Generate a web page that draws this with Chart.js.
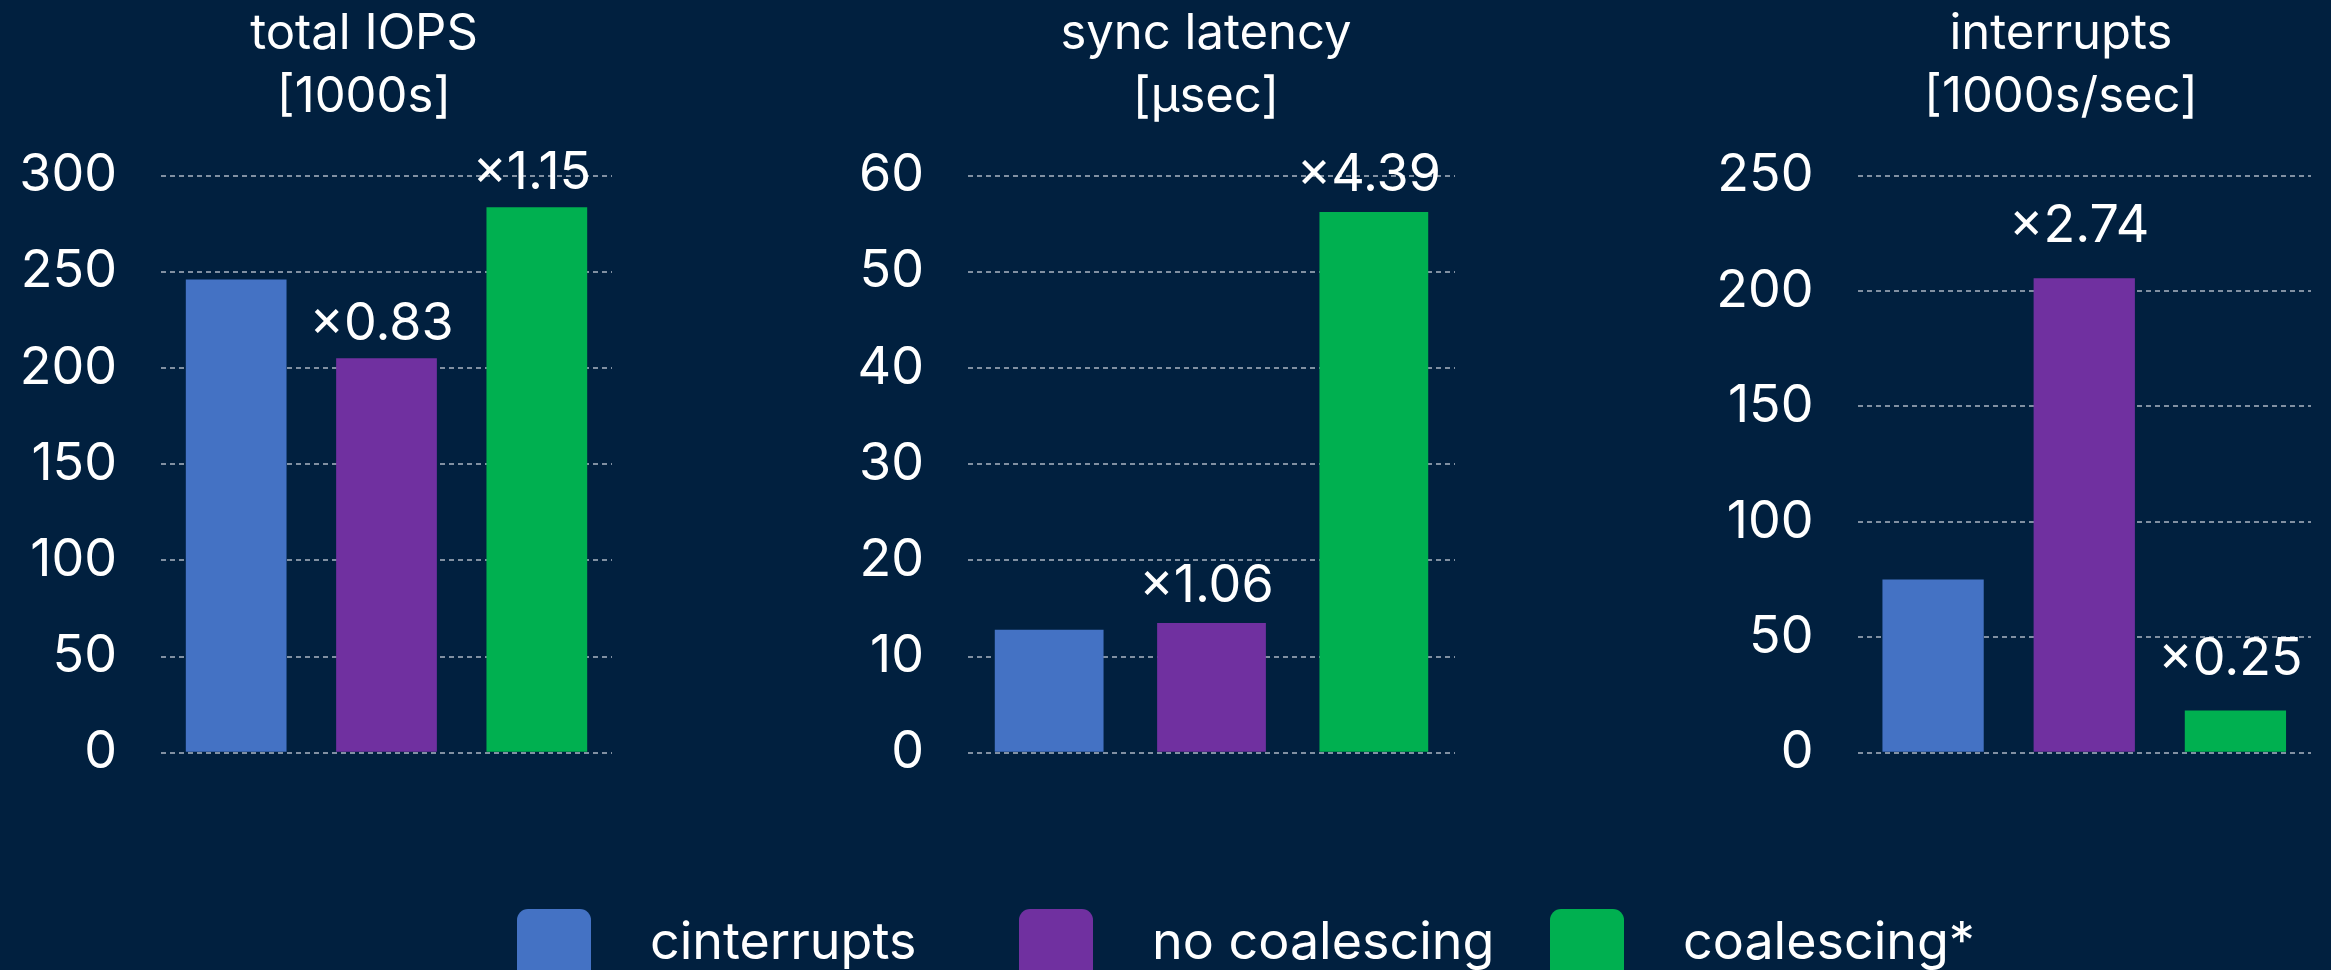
<!DOCTYPE html>
<html>
<head>
<meta charset="utf-8">
<script src="https://cdn.jsdelivr.net/npm/chart.js@4.4.1/dist/chart.umd.min.js"></script>
<style>
  html, body { margin: 0; padding: 0; background: #01203f; }
  #page { position: relative; width: 2331px; height: 970px; overflow: hidden; background: #01203f; font-family: Inter, sans-serif; }
  .panel { position: absolute; top: 0; height: 828px; }
  .title { position: absolute; top: 0px; width: 600px; text-align: center; color: #fff; font-size: 49px; line-height: 63px; white-space: nowrap; }
  .item { position: absolute; top: 909px; display: flex; align-items: flex-start; }
  .swatch { width: 74px; height: 80px; border-radius: 11px; }
  .label { color: #fff; font-size: 52px; margin-left: 59px; line-height: 1; margin-top: 6px; white-space: nowrap; }
</style>
</head>
<body>
<div id="page">
  <div class="panel" id="p0"><canvas id="c0"></canvas></div>
  <div class="panel" id="p1"><canvas id="c1"></canvas></div>
  <div class="panel" id="p2"><canvas id="c2"></canvas></div>
</div>
<script>
// data
var metrics = ['total IOPS', 'sync latency', 'interrupts'];
var units = ['[1000s]', '[\u03bcsec]', '[1000s/sec]'];
var seriesNames = ['cinterrupts', 'no coalescing', 'coalescing*'];
var cinterrupts = [246, 12.8, 75];
var noCoalescing = [205, 13.5, 205.5];
var coalescing = [283.5, 56.2, 18.3];
var ratioLabels = [
    ['', '\u00d70.83', '\u00d71.15'],
    ['', '\u00d71.06', '\u00d74.39'],
    ['', '\u00d72.74', '\u00d70.25']
];
var yMax = [300, 60, 250];
var yStep = [50, 10, 50];

var colors = ['#4472c4', '#7030a0', '#00b050'];

// panel geometry: canvas left/width, y axis width, title centre, gap above bar for ratio text
var panels = [
    { left: 0, width: 632, axisW: 161, titleX: 364, gap: 18 },
    { left: 840, width: 635, axisW: 128, titleX: 1206, gap: 21 },
    { left: 1690, width: 641, axisW: 167.5, titleX: 2061, gap: 36 }
];
var legendLeft = [517, 1019, 1550];

Chart.defaults.font.family = 'Inter, sans-serif';
Chart.defaults.color = '#ffffff';

var ratioPlugin = {
    id: 'ratioLabels',
    afterDatasetsDraw: function(chart) {
        var opts = chart.options.plugins.ratioLabels;
        var ctx = chart.ctx;
        var meta = chart.getDatasetMeta(0);
        ctx.save();
        ctx.font = '52px Inter, sans-serif';
        ctx.fillStyle = '#ffffff';
        ctx.textAlign = 'center';
        ctx.textBaseline = 'alphabetic';
        meta.data.forEach(function(bar, i) {
            var txt = ratioLabels[opts.index][i];
            if (txt) {
                ctx.fillText(txt, bar.x - 5, bar.y - opts.gap);
            }
        });
        ctx.restore();
    }
};

var page = document.getElementById('page');

metrics.forEach(function(name, ndx) {
    var p = panels[ndx];
    var wrap = document.getElementById('p' + ndx);
    wrap.style.left = p.left + 'px';
    wrap.style.width = p.width + 'px';

    var title = document.createElement('div');
    title.className = 'title';
    title.style.left = (p.titleX - 300) + 'px';
    title.innerHTML = name + '<br>' + units[ndx];
    page.appendChild(title);

    var values = [cinterrupts[ndx], noCoalescing[ndx], coalescing[ndx]];
    var ctx = document.getElementById('c' + ndx).getContext('2d');
    new Chart(ctx, {
        type: 'bar',
        data: {
            labels: seriesNames,
            datasets: [{
                data: values,
                backgroundColor: colors,
                borderWidth: 0,
                barPercentage: 0.67,
                categoryPercentage: 1.0
            }]
        },
        options: {
            responsive: true,
            maintainAspectRatio: false,
            animation: false,
            layout: {
                padding: { left: 0, right: 20, top: 175.5, bottom: 0 }
            },
            plugins: {
                legend: { display: false },
                tooltip: { enabled: false },
                title: { display: false },
                ratioLabels: { index: ndx, gap: p.gap }
            },
            scales: {
                x: { display: false },
                y: {
                    min: 0,
                    max: yMax[ndx],
                    afterFit: function(scale) { scale.width = p.axisW; },
                    ticks: {
                        stepSize: yStep[ndx],
                        padding: 44,
                        color: '#ffffff',
                        font: { size: 52 }
                    },
                    grid: {
                        color: '#8190a2',
                        lineWidth: 2,
                        drawTicks: false
                    },
                    border: { display: false, dash: [5, 4] }
                }
            }
        },
        plugins: [ratioPlugin]
    });
});

// shared legend
seriesNames.forEach(function(name, i) {
    var item = document.createElement('div');
    item.className = 'item';
    item.style.left = legendLeft[i] + 'px';
    item.innerHTML = '<div class="swatch" style="background:' + colors[i] + '"></div><div class="label">' + name + '</div>';
    page.appendChild(item);
});
</script>
</body>
</html>
